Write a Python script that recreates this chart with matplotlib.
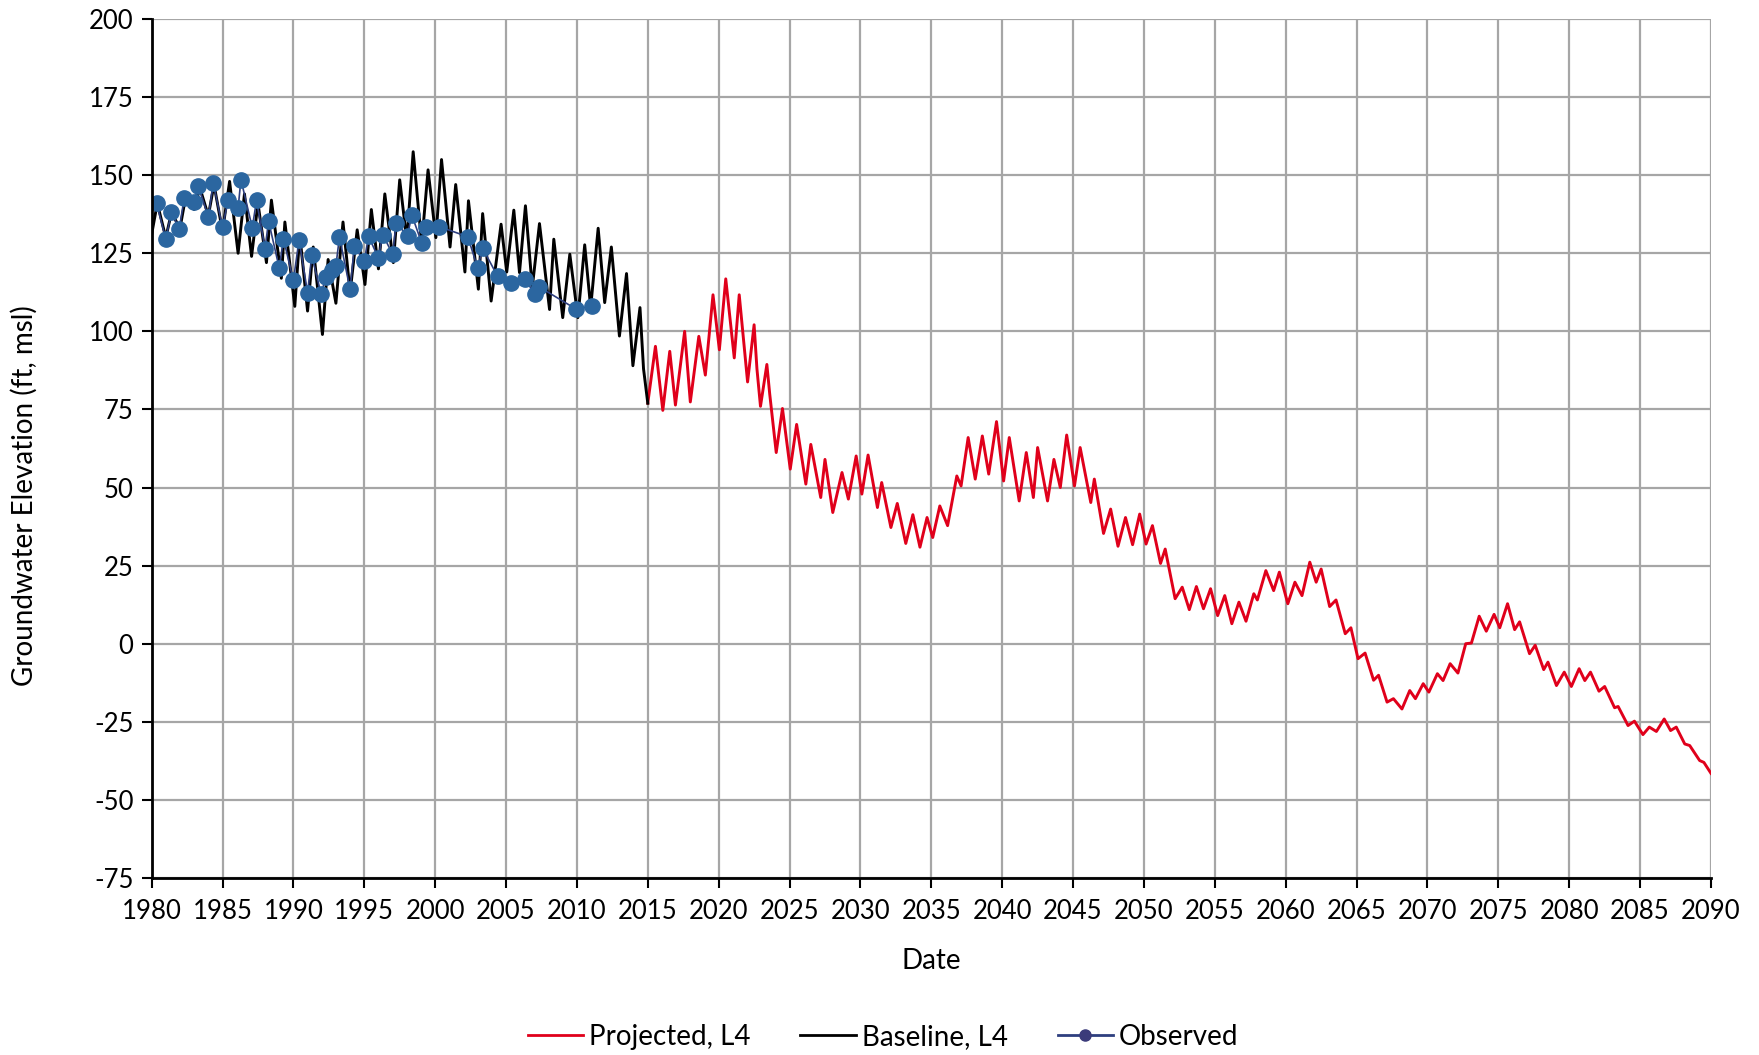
import matplotlib.pyplot as plt
from matplotlib.lines import Line2D

# values (decimal year, ft msl)
baseline_years = [1980.0, 1980.4, 1981.0, 1981.4, 1982.0, 1982.4, 1983.0, 1983.4, 1984.0, 1984.4,
                  1985.0, 1985.5, 1986.1, 1986.55, 1987.05, 1987.5, 1988.1, 1988.45, 1989.15, 1989.4,
                  1990.1, 1990.45, 1991.0, 1991.4, 1992.05, 1992.45, 1993.0, 1993.5, 1994.0, 1994.5,
                  1995.05, 1995.5, 1996.0, 1996.45, 1997.05, 1997.5, 1998.0, 1998.45, 1999.05, 1999.5,
                  2000.05, 2000.45, 2001.05, 2001.45, 2002.1, 2002.35, 2003.05, 2003.35, 2003.95, 2004.65,
                  2005.05, 2005.55, 2005.95, 2006.37, 2006.85, 2007.36, 2008.07, 2008.37, 2009.0, 2009.5,
                  2010.07, 2010.55, 2010.97, 2011.5, 2011.96, 2012.43, 2013.0, 2013.5, 2013.95, 2014.45,
                  2014.7, 2015.0]
baseline_vals = [131, 141, 130, 138, 133, 143, 139, 146, 137, 147,
                 132, 148, 125, 144, 124, 141, 122, 142, 117, 135,
                 108, 131, 106.5, 127, 99, 123, 109, 135, 112.5, 132.5,
                 115, 139, 120, 144, 122, 148.5, 129, 157.5, 128, 151.7,
                 130, 155, 127, 147, 119, 141.8, 113.5, 137.7, 109.7, 134.3,
                 119, 138.8, 118.8, 140.2, 114, 134.5, 107, 129.5, 104.4, 124.7,
                 104.4, 127.7, 107.6, 133, 109.2, 127, 98.5, 118.5, 89, 107.6,
                 88, 77]

projected_years = [2015.0, 2015.54, 2016.06, 2016.55, 2016.95, 2017.6, 2018.0, 2018.6, 2019.06, 2019.6,
                   2020.05, 2020.5, 2021.1, 2021.45, 2022.04, 2022.5, 2022.7, 2022.95, 2023.4, 2023.6,
                   2024.06, 2024.5, 2025.05, 2025.5, 2026.15, 2026.5, 2027.2, 2027.5, 2028.05, 2028.7,
                   2029.15, 2029.7, 2030.1, 2030.54, 2031.2, 2031.5, 2032.15, 2032.6, 2033.2, 2033.7,
                   2034.2, 2034.7, 2035.1, 2035.6, 2036.15, 2036.8, 2037.1, 2037.6, 2038.1, 2038.6,
                   2039.05, 2039.6, 2040.1, 2040.5, 2041.2, 2041.7, 2042.2, 2042.5, 2043.2, 2043.65,
                   2044.1, 2044.55, 2045.1, 2045.5, 2046.25, 2046.5, 2047.15, 2047.65, 2048.17, 2048.7,
                   2049.2, 2049.7, 2050.15, 2050.6, 2051.17, 2051.5, 2052.2, 2052.7, 2053.2, 2053.7,
                   2054.2, 2054.7, 2055.2, 2055.7, 2056.2, 2056.7, 2057.2, 2057.75, 2058.0, 2058.6,
                   2059.15, 2059.55, 2060.15, 2060.65, 2061.15, 2061.7, 2062.15, 2062.5, 2063.1, 2063.55,
                   2064.2, 2064.6, 2065.1, 2065.6, 2066.2, 2066.55, 2067.15, 2067.6, 2068.2, 2068.75,
                   2069.15, 2069.7, 2070.1, 2070.7, 2071.1, 2071.6, 2072.15, 2072.7, 2073.1, 2073.65,
                   2074.15, 2074.7, 2075.1, 2075.65, 2076.15, 2076.5, 2077.2, 2077.6, 2078.2, 2078.5,
                   2079.1, 2079.65, 2080.15, 2080.7, 2081.1, 2081.5, 2082.1, 2082.5, 2083.2, 2083.45,
                   2084.15, 2084.6, 2085.2, 2085.65, 2086.15, 2086.7, 2087.15, 2087.55, 2088.15, 2088.5,
                   2089.2, 2089.5, 2090.0]
projected_vals = [77, 95.2, 74.7, 93.6, 76.4, 100, 77.4, 98.4, 86, 111.7,
                  94.1, 116.8, 91.5, 111.7, 83.8, 102.1, 88, 76, 89.4, 80,
                  61.2, 75.3, 55.9, 70.2, 51.1, 63.8, 46.8, 59, 42, 54.8,
                  46.3, 60.1, 47.9, 60.4, 43.6, 51.6, 37.2, 44.9, 32.1, 41.3,
                  30.9, 40.4, 34, 44.1, 37.8, 53.7, 50.5, 66, 52.7, 66.5,
                  54.3, 71.1, 52.1, 66, 45.7, 61.2, 46.8, 62.8, 45.7, 59,
                  50, 66.8, 50.5, 62.8, 45.2, 52.7, 35.3, 43.1, 31.2, 40.4,
                  31.7, 41.5, 31.9, 37.8, 25.7, 30.3, 14.4, 18.1, 10.9, 18.3,
                  11.2, 17.6, 9, 15.4, 6.4, 13.3, 7.2, 16, 14, 23.4,
                  17, 22.9, 12.8, 19.7, 15.4, 26.1, 19.7, 23.9, 11.9, 14,
                  3.2, 5.1, -4.8, -3, -11.7, -10.1, -18.7, -17.6, -20.9, -15,
                  -17.6, -12.8, -15.5, -9.6, -11.8, -6.4, -9.4, 0, 0.2, 8.8,
                  4, 9.4, 5.1, 12.8, 4.5, 7, -3.2, -0.5, -8.3, -5.9,
                  -13.4, -9.1, -13.7, -8, -11.8, -9.1, -15.2, -13.7, -20.5, -20.1,
                  -26.2, -24.8, -29.1, -26.7, -28.1, -24.1, -27.8, -26.7, -32.1, -32.6,
                  -37.4, -38, -41.5]

observed_years = [1980.35, 1981.0, 1981.4, 1981.95, 1982.3, 1983.0, 1983.3, 1984.0, 1984.35, 1985.0,
                  1985.4, 1986.1, 1986.3, 1987.1, 1987.4, 1988.0, 1988.25, 1989.0, 1989.3, 1990.0,
                  1990.4, 1991.0, 1991.3, 1991.95, 1992.3, 1992.7, 1993.0, 1993.25, 1994.0, 1994.3,
                  1995.0, 1995.3, 1996.0, 1996.3, 1997.0, 1997.25, 1998.05, 1998.35, 1999.05, 1999.35,
                  2000.3, 2002.3, 2003.0, 2003.35, 2004.4, 2005.35, 2006.35, 2007.05, 2007.35, 2009.95,
                  2011.05]
observed_vals = [141, 129.5, 138.3, 132.7, 142.8, 141.5, 146.5, 136.6, 147.5, 133.3,
                 142.2, 139.4, 148.6, 133.2, 141.9, 126.5, 135.3, 120.3, 129.6, 116.3,
                 129.3, 112.4, 124.3, 112, 117.4, 119.7, 121, 130.2, 113.4, 127.2,
                 122.4, 130.4, 123.5, 131, 124.7, 134.7, 130.6, 137.3, 128.3, 133.5,
                 133.5, 130.3, 120.3, 126.6, 117.7, 115.5, 116.6, 111.8, 114.2, 107.1,
                 108.1]

red = '#E0001B'
obs_line = '#2E3F7F'
obs_dot = '#2B66A0'
plt.rcParams['font.family'] = ['Lato', 'DejaVu Sans']
plt.rcParams['axes.unicode_minus'] = False

fig = plt.figure(figsize=(17.59, 10.55), dpi=100)
ax = fig.add_axes([0.0862, 0.1678, 0.8865, 0.8142])

ax.plot(projected_years, projected_vals, color=red, lw=2.1, zorder=3, solid_joinstyle='round')
ax.plot(baseline_years, baseline_vals, color='black', lw=2.1, zorder=4, solid_joinstyle='round')
ax.plot(observed_years, observed_vals, color=obs_line, lw=1.2, marker='o', ms=11,
        markerfacecolor=obs_dot, markeredgecolor=obs_dot, zorder=5)

ax.set_xlim(1980, 2090)
ax.set_ylim(-75, 200)
ax.set_xticks(range(1980, 2091, 5))
ax.set_yticks(range(-75, 201, 25))
ax.grid(True, color='#A6A6A6', lw=1.6)
ax.set_axisbelow(True)
for s in ['top', 'right']:
    ax.spines[s].set_visible(False)
for s in ['left', 'bottom']:
    ax.spines[s].set_linewidth(2.0)
    ax.spines[s].set_zorder(6)
ax.tick_params(axis='both', labelsize=18.5, length=7, width=1.5, color='black')
ax.tick_params(axis='x', pad=8)
ax.tick_params(axis='y', pad=6)

ax.set_xlabel('Date', fontsize=20)
ax.set_ylabel('Groundwater Elevation (ft, msl)', fontsize=20)
ax.xaxis.set_label_coords(0.5, -0.097)
ax.xaxis.label.set_va('center')
ax.yaxis.set_label_coords(-0.0815, 0.445)
ax.yaxis.label.set_va('center')

handles = [Line2D([], [], color=red, lw=2),
           Line2D([], [], color='black', lw=2),
           Line2D([], [], color=obs_line, lw=2, marker='o', ms=8,
                  markerfacecolor='#3B3B7A', markeredgecolor='#3B3B7A')]
fig.legend(handles, ['Projected, L4', 'Baseline, L4', 'Observed'], loc='center',
           bbox_to_anchor=(0.502, 0.017), ncol=3, frameon=False, fontsize=20,
           handlelength=2.0, columnspacing=1.8, handletextpad=0.2)

fig.savefig('out.png', dpi=100)
